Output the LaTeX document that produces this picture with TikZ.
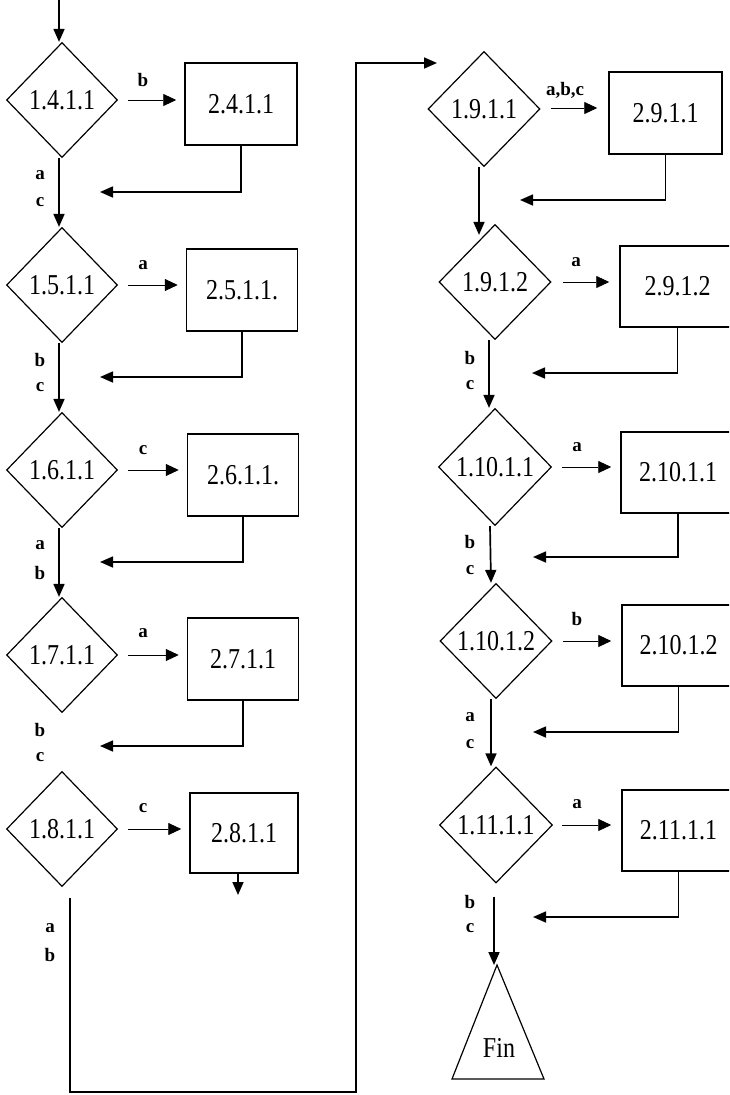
\documentclass[tikz,border=0pt]{standalone}
\usepackage{fontspec}
\setmainfont{Liberation Serif}
\usepackage{graphicx}
\usetikzlibrary{shapes.geometric,arrows.meta,calc}
\newcommand{\stretchtxt}[1]{\scalebox{1}[1.2]{#1}}
\begin{document}
\begin{tikzpicture}[x=1pt,y=-1pt,
  dec/.style={draw, shape=diamond, minimum width=111pt, minimum height=115pt, inner sep=0pt, line width=1.2pt, font=\fontsize{24}{26}\selectfont},
  act/.style={draw, rectangle, minimum width=111pt, minimum height=82pt, inner sep=0pt, line width=1.5pt, font=\fontsize{24}{26}\selectfont},
  flow/.style={line width=1.7pt, -{Triangle[length=13pt,width=11pt]}},
  branch/.style={line width=0.9pt, -{Triangle[length=13pt,width=12pt]}},
  back/.style={line width=1.6pt, -{Triangle[length=13pt,width=11pt]}},
  lab/.style={font=\bfseries\fontsize{19}{21}\selectfont, inner sep=0pt},
]
\useasboundingbox (0,0) rectangle (729,1095);
\clip (0,0) rectangle (729,1095);

% ---------- left column ----------
\node[dec] (d14) at (62,100) {\stretchtxt{1.4.1.1}};
\node[dec] (d15) at (62,285) {\stretchtxt{1.5.1.1}};
\node[dec] (d16) at (62,470) {\stretchtxt{1.6.1.1}};
\node[dec] (d17) at (62,655) {\stretchtxt{1.7.1.1}};
\node[dec] (d18) at (62,829) {\stretchtxt{1.8.1.1}};

\node[act, minimum width=112pt] (b24) at (241,104) {\stretchtxt{2.4.1.1}};
\node[act] (b25) at (242,290) {\stretchtxt{2.5.1.1.}};
\node[act] (b26) at (243,475) {\stretchtxt{2.6.1.1.}};
\node[act] (b27) at (243,659) {\stretchtxt{2.7.1.1}};
\node[act, minimum width=108pt, minimum height=80pt] (b28) at (244,833) {\stretchtxt{2.8.1.1}};

\coordinate (start) at (59,0);
\draw[flow] (start) -- (d14.north -| start);
\draw[flow] ([xshift=-3pt]d14.south) -- ([xshift=-3pt]d15.north);
\draw[flow] ([xshift=-3pt]d15.south) -- ([xshift=-3pt]d16.north);
\draw[flow] ([xshift=-3pt]d16.south) -- ([xshift=-3pt]d17.north);

\draw[branch] ([xshift=10pt]d14.east) -- ([xshift=-8pt]d14.east -| b24.west);
\draw[branch] ([xshift=10pt]d15.east) -- ([xshift=-8pt]d15.east -| b25.west);
\draw[branch] ([xshift=10pt]d16.east) -- ([xshift=-8pt]d16.east -| b26.west);
\draw[branch] ([xshift=10pt]d17.east) -- ([xshift=-8pt]d17.east -| b27.west);
\draw[branch] ([xshift=10pt]d18.east) -- ([xshift=-8pt]d18.east -| b28.west);

\coordinate (r24) at (100,192);
\coordinate (r25) at (100,377);
\coordinate (r26) at (100,562);
\coordinate (r27) at (100,746);
\draw[back] (b24.south) |- (r24);
\draw[back] (b25.south) |- (r25);
\draw[back] (b26.south) |- (r26);
\draw[back] (b27.south) |- (r27);

\coordinate (e28) at (238,895);
\draw[flow] (b28.south -| e28) -- (e28);

% long connector
\coordinate (l0) at (70,898);
\coordinate (l1) at (70,1092);
\coordinate (l2) at (356,1092);
\coordinate (l3) at (356,63);
\coordinate (l4) at (437,63);
\draw[flow] (l0) -- (l1) -- (l2) -- (l3) -- (l4);

% left labels
\node[lab] (la1) at (143,80) {b};
\node[lab] (la2) at (40,175) {a};
\node[lab] (la3) at (40,202) {c};
\node[lab] (la4) at (143,265) {a};
\node[lab] (la5) at (40,360) {b};
\node[lab] (la6) at (40,387) {c};
\node[lab] (la7) at (143,450) {c};
\node[lab] (la8) at (40,545) {a};
\node[lab] (la9) at (40,573) {b};
\node[lab] (la10) at (143,633) {a};
\node[lab] (la11) at (40,730) {b};
\node[lab] (la12) at (40,757) {c};
\node[lab] (la13) at (143,808) {c};
\node[lab] (la14) at (50,928) {a};
\node[lab] (la15) at (50,955) {b};

% ---------- right column ----------
\node[dec, minimum width=112pt] (d191) at (484,109) {\stretchtxt{1.9.1.1}};
\node[dec, minimum width=112pt] (d192) at (495,282) {\stretchtxt{1.9.1.2}};
\node[dec, minimum width=113pt, minimum height=117pt] (d1101) at (495,467) {\stretchtxt{1.10.1.1}};
\node[dec, minimum width=112pt] (d1102) at (496,641) {\stretchtxt{1.10.1.2}};
\node[dec, minimum width=113pt, minimum height=116pt] (d1111) at (496,825) {\stretchtxt{1.11.1.1}};

\node[act, minimum width=113pt] (b291) at (665.5,113) {\stretchtxt{2.9.1.1}};
\node[act, minimum width=115pt, minimum height=81pt] (b292) at (677.5,286.5) {\stretchtxt{2.9.1.2}};
\node[act, minimum width=114pt, minimum height=81pt] (b2101) at (678,472.5) {\stretchtxt{2.10.1.1}};
\node[act, minimum width=113pt, minimum height=81pt] (b2102) at (678.5,645.5) {\stretchtxt{2.10.1.2}};
\node[act, minimum width=113pt, minimum height=81pt] (b2111) at (678.5,830.5) {\stretchtxt{2.11.1.1}};

\draw[flow] ([xshift=-5pt]d191.south) -- ([xshift=-16pt,yshift=-11pt]d192.north);
\draw[flow] ([xshift=-6pt]d192.south) -- ([xshift=-6pt]d1101.north);
\draw[flow] ([xshift=-5pt]d1101.south) -- ([xshift=-5pt]d1102.north);
\draw[flow] ([xshift=-5pt]d1102.south) -- ([xshift=-5pt]d1111.north);

\draw[branch] ([xshift=10pt,yshift=1pt]d191.east) -- ([xshift=-11pt,yshift=1pt]d191.east -| b291.west);
\draw[branch] ([xshift=11pt]d192.east) -- ([xshift=-10pt]d192.east -| b292.west);
\draw[branch] ([xshift=10pt]d1101.east) -- ([xshift=-9pt]d1101.east -| b2101.west);
\draw[branch] ([xshift=10pt]d1102.east) -- ([xshift=-10pt]d1102.east -| b2102.west);
\draw[branch] ([xshift=9pt]d1111.east) -- ([xshift=-10pt]d1111.east -| b2111.west);

\coordinate (r291) at (520,200);
\coordinate (r292) at (532,373);
\coordinate (r2101) at (533,557);
\coordinate (r2102) at (533,732);
\coordinate (r2111) at (533,917);
\draw[back] (b291.south) |- (r291);
\draw[back] (b292.south) |- (r292);
\draw[back] (b2101.south) |- (r2101);
\draw[back] (b2102.south) |- (r2102);
\draw[back] (b2111.south) |- (r2111);

% Fin
\coordinate (finapex) at (494,965);
\draw[line width=1.2pt] (497,965) -- (544,1079) -- (452,1079) -- cycle;
\node[font=\fontsize{24}{26}\selectfont] (fin) at (499,1048) {\stretchtxt{Fin}};
\draw[flow] ([yshift=-13pt]d1111.south -| finapex) -- (finapex);

% right labels
\node[lab] (ra1) at (565,90) {a,b,c};
\node[lab] (ra2) at (576,262) {a};
\node[lab] (ra3) at (470,358) {b};
\node[lab] (ra4) at (470,385) {c};
\node[lab] (ra5) at (577,447) {a};
\node[lab] (ra6) at (470,542) {b};
\node[lab] (ra7) at (470,570) {c};
\node[lab] (ra8) at (577,619) {b};
\node[lab] (ra9) at (470,717) {a};
\node[lab] (ra10) at (470,744) {c};
\node[lab] (ra11) at (577,804) {a};
\node[lab] (ra12) at (470,902) {b};
\node[lab] (ra13) at (470,928) {c};
\end{tikzpicture}
\end{document}
